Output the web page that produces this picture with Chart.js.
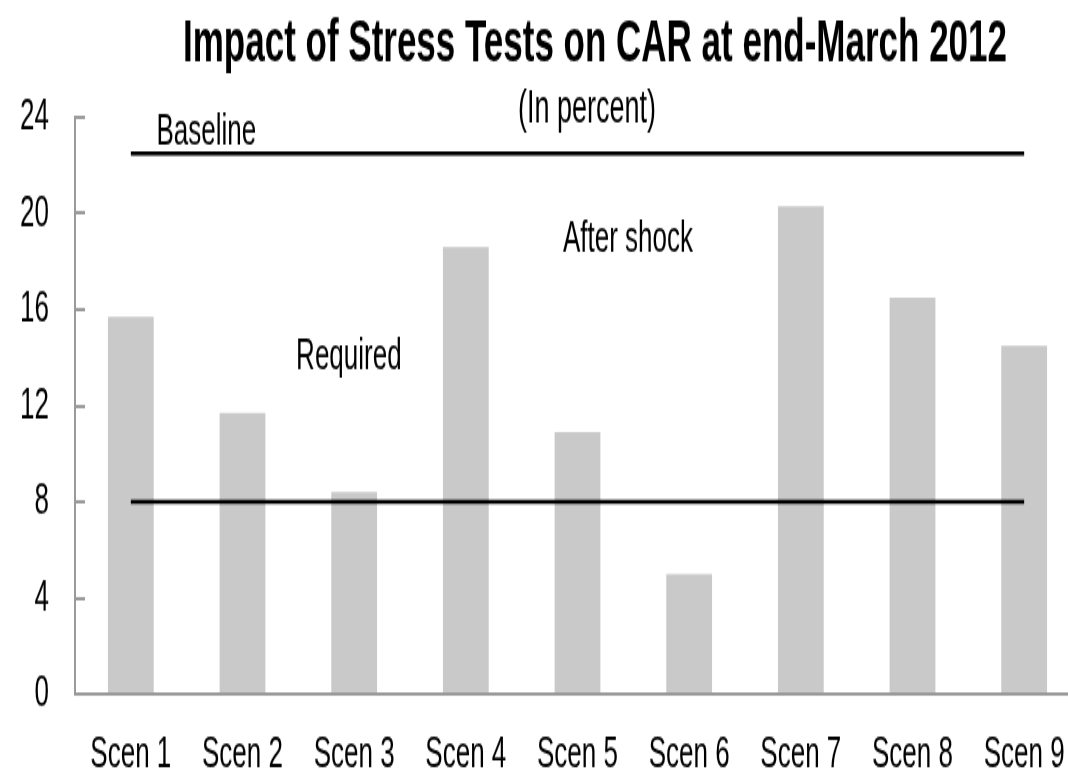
<!DOCTYPE html>
<html>
<head>
<meta charset="utf-8">
<title>Impact of Stress Tests on CAR</title>
<script src="https://cdn.jsdelivr.net/npm/chart.js@4.4.1/dist/chart.umd.min.js"></script>
<style>
  html, body { margin: 0; padding: 0; background: #fff; }
  #wrap { width: 1068px; height: 774px; overflow: hidden; position: relative; }
  /* drawn short, then stretched tall: gives the narrow, tall lettering */
  #car { display: block; transform: scaleY(1.701); transform-origin: 0 0; }
</style>
</head>
<body>
<div id="wrap">
  <canvas id="car" width="1084" height="455"></canvas>
</div>
<script>
(() => {
  'use strict'

  const scenarios = ['Scen 1', 'Scen 2', 'Scen 3', 'Scen 4', 'Scen 5', 'Scen 6', 'Scen 7', 'Scen 8', 'Scen 9']
  const afterShock = [15.7, 11.7, 8.4, 18.6, 10.9, 5.0, 20.3, 16.5, 14.5]
  const baseline = [22.5, 22.5, 22.5, 22.5, 22.5, 22.5, 22.5, 22.5, 22.5]
  const required = [8, 8, 8, 8, 8, 8, 8, 8, 8]
  const yTicks = [0, 4, 8, 12, 16, 20, 24]

  const titleText = 'Impact of Stress Tests on CAR at end-March 2012'
  const subtitleText = '(In percent)'

  // text notes placed in data space (category position, value)
  const notes = [
    { text: 'Baseline', at: 0.23, value: 22.9 },
    { text: 'After shock', at: 3.87, value: 18.4 },
    { text: 'Required', at: 1.48, value: 13.5 },
  ]

  const FONT = '"Liberation Sans", Arial, Helvetica, sans-serif'
  const AXIS_GREY = '#9a9a9a'

  Chart.defaults.font.family = FONT
  Chart.defaults.color = '#000'

  const textLayer = {
    id: 'textLayer',
    afterDraw(chart) {
      const { ctx } = chart
      const { x, y } = chart.scales
      ctx.save()
      ctx.fillStyle = '#000'
      ctx.textBaseline = 'alphabetic'
      ctx.textAlign = 'center'
      ctx.font = 'bold 35px ' + FONT
      ctx.fillText(titleText, 595, 36)
      ctx.font = '27px ' + FONT
      ctx.fillText(subtitleText, 587, 72)
      ctx.textAlign = 'left'
      ctx.font = '26px ' + FONT
      notes.forEach(n => {
        ctx.fillText(n.text, x.getPixelForValue(n.at), y.getPixelForValue(n.value))
      })
      ctx.restore()
    }
  }

  // eslint-disable-next-line no-unused-vars
  const carChart = new Chart(document.getElementById('car'), {
    type: 'bar',
    plugins: [textLayer],
    data: {
      labels: scenarios,
      datasets: [
        {
          type: 'line',
          label: 'Baseline',
          data: baseline,
          borderColor: '#000',
          borderWidth: 2.5,
          pointRadius: 0,
          fill: false,
          order: 0,
        },
        {
          type: 'line',
          label: 'Required',
          data: required,
          borderColor: '#000',
          borderWidth: 2.5,
          pointRadius: 0,
          fill: false,
          order: 0,
        },
        {
          label: 'After shock',
          data: afterShock,
          backgroundColor: '#c9c9c9',
          barPercentage: 0.41,
          categoryPercentage: 1,
          order: 1,
        },
      ]
    },
    options: {
      responsive: false,
      animation: false,
      layout: {
        padding: { top: 69, right: 4, bottom: 0, left: 0 }
      },
      plugins: {
        legend: { display: false },
        tooltip: { enabled: false },
        title: { display: false },
      },
      scales: {
        x: {
          grid: { display: false },
          border: { color: AXIS_GREY, width: 2 },
          ticks: {
            font: { size: 26 },
            padding: 12,
            maxRotation: 0,
            autoSkip: false,
          },
          afterFit: s => { s.height = 47 },
        },
        y: {
          min: 0,
          max: 24,
          grid: {
            drawOnChartArea: false,
            color: AXIS_GREY,
            lineWidth: 2,
            tickLength: -10, // tick marks sit inside the plot
          },
          border: { color: AXIS_GREY, width: 2 },
          ticks: {
            font: { size: 26 },
            padding: 36,
          },
          afterBuildTicks: s => { s.ticks = yTicks.map(v => ({ value: v })) },
          afterFit: s => {
            s.width = 75
            // the wide label padding should not push the plot up
            s.paddingTop = 10
            s.paddingBottom = 10
          },
        },
      },
    }
  })
})()
</script>
</body>
</html>
